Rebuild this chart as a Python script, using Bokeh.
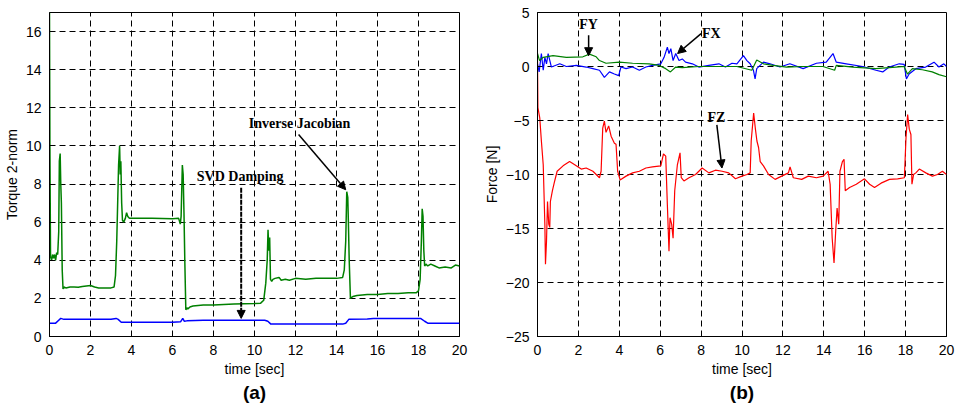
from bokeh.plotting import figure
from bokeh.layouts import row
from bokeh.models import (Range1d, SingleIntervalTicker, Label, Arrow, NormalHead, Title)
from bokeh.embed import file_html
from bokeh.resources import INLINE

# ---------------- (a) Torque 2-norm ----------------
inv_t = [0.00, 0.02, 0.05, 0.10, 0.15, 0.20, 0.25, 0.30, 0.35, 0.40, 0.45, 0.48, 0.52, 0.55, 0.58,
         0.62, 0.66, 0.70, 0.80, 1.0, 1.2, 1.4, 1.6, 1.8, 2.0, 2.2, 2.4, 2.6, 2.8, 3.0, 3.15, 3.22,
         3.28, 3.33, 3.37, 3.42, 3.45, 3.48, 3.52, 3.56, 3.62, 3.70, 3.76, 3.82, 3.90, 4.2, 5.0, 6.0,
         6.30, 6.38, 6.42, 6.48, 6.52, 6.56, 6.60, 6.65, 6.70, 6.75, 6.85, 7.0, 7.5, 8.0, 8.5, 9.0,
         9.5, 10.0, 10.3, 10.45, 10.55, 10.62, 10.66, 10.70, 10.74, 10.78, 10.84, 10.9, 11.0, 11.2,
         11.3, 11.5, 11.7, 12.0, 12.5, 13.0, 13.5, 14.0, 14.3, 14.38, 14.45, 14.50, 14.55, 14.58,
         14.62, 14.68, 14.74, 14.80, 15.0, 15.5, 16.0, 16.5, 17.0, 17.5, 17.9, 18.0, 18.08, 18.14,
         18.18, 18.22, 18.26, 18.30, 18.36, 18.45, 18.6, 18.8, 19.0, 19.3, 19.6, 19.8, 20.0]
inv_y = [17.0, 10.0, 4.2, 4.0, 4.3, 4.1, 4.3, 4.0, 4.4, 4.3, 5.5, 9.2, 9.6, 8.0, 7.0,
         3.5, 2.5, 2.6, 2.55, 2.6, 2.6, 2.58, 2.62, 2.65, 2.68, 2.6, 2.55, 2.55, 2.55, 2.55, 2.6, 3.2,
         5.0, 7.2, 9.0, 10.0, 8.5, 9.2, 7.0, 6.1, 6.0, 6.2, 6.5, 6.3, 6.2, 6.2, 6.2, 6.18,
         6.2, 5.9, 6.3, 9.0, 8.5, 6.5, 4.0, 1.4, 1.5, 1.45, 1.55, 1.6, 1.65, 1.65, 1.68, 1.7,
         1.72, 1.73, 1.75, 1.9, 2.8, 4.0, 5.6, 4.5, 5.2, 3.0, 2.9, 3.0, 3.05, 3.1,
         2.95, 3.0, 2.95, 3.05, 3.0, 3.05, 3.05, 3.05, 3.1, 3.5, 5.0, 7.6, 7.3, 6.0,
         4.0, 2.0, 2.05, 2.1, 2.15, 2.2, 2.2, 2.25, 2.25, 2.3, 2.3, 2.4, 3.0, 5.0,
         6.7, 6.3, 4.5, 3.7, 3.8, 3.7, 3.8, 3.7, 3.6, 3.65, 3.6, 3.75, 3.7]

svd_t = [0, 0.3, 0.45, 0.55, 0.7, 1.5, 3.0, 3.25, 3.35, 3.5, 4.0, 6.0, 6.4, 6.5, 6.58, 6.7, 7.5,
         9.0, 10.5, 10.65, 10.8, 12.0, 14.3, 14.45, 14.6, 15.5, 15.8, 17.0, 18.1, 18.3, 18.45, 20]
svd_y = [0.7, 0.7, 0.85, 0.95, 0.9, 0.9, 0.9, 0.95, 0.9, 0.75, 0.75, 0.75, 0.78, 0.95, 0.8, 0.82,
         0.85, 0.85, 0.85, 0.8, 0.65, 0.65, 0.65, 0.7, 0.9, 0.92, 0.95, 0.95, 0.95, 0.8, 0.7, 0.7]

# ---------------- (b) Forces ----------------
fz_t = [0.0, 0.02, 0.11, 0.19, 0.28, 0.36, 0.39, 0.44, 0.49, 0.55, 0.60, 0.63, 0.73, 0.84, 0.96,
        1.25, 1.57, 1.82, 2.14, 2.38, 2.71, 3.03, 3.11, 3.19, 3.27, 3.35, 3.48, 3.6, 3.76, 3.84,
        3.92, 4.04, 4.33, 4.65, 4.98, 5.3, 5.62, 6.03, 6.16, 6.27, 6.35, 6.43, 6.48, 6.56, 6.63,
        6.71, 6.84, 6.97, 7.03, 7.16, 7.41, 7.73, 8.05, 8.38, 8.7, 9.03, 9.35, 9.68, 10.0, 10.24,
        10.4, 10.45, 10.57, 10.65, 10.73, 10.81, 10.89, 11.05, 11.3, 11.62, 11.94, 12.27, 12.35,
        12.51, 12.92, 13.24, 13.64, 13.97, 14.21, 14.31, 14.41, 14.5, 14.58, 14.65, 14.73, 14.79,
        14.91, 14.99, 15.05, 15.26, 15.59, 15.99, 16.24, 16.48, 16.8, 17.21, 17.61, 17.94, 18.02,
        18.1, 18.18, 18.26, 18.31, 18.39, 18.5, 18.67, 18.99, 19.31, 19.56, 19.8, 20.0]
fz_y = [0.5, -3.8, -4.75, -6.9, -9.1, -14.6, -18.3, -16.2, -12.5, -14.6, -14.9, -12.5, -11.5, -10.6,
        -9.7, -9.2, -8.8, -9.1, -9.5, -9.4, -9.7, -10.3, -9.7, -5.7, -5.05, -6.1, -5.5, -6.45, -7.1,
        -7.2, -9.7, -10.5, -10.15, -9.85, -9.7, -9.4, -9.3, -9.2, -8.1, -8.3, -12.8, -17.1, -14.0,
        -14.6, -15.9, -11.5, -9.1, -8.0, -10.3, -10.6, -10.3, -10.0, -9.4, -9.85, -9.6, -9.7, -9.85,
        -10.4, -10.15, -10.0, -9.85, -6.9, -4.3, -5.7, -6.9, -7.5, -8.8, -9.2, -10.0, -10.45, -10.15,
        -9.85, -9.3, -10.3, -10.45, -10.15, -10.3, -10.15, -9.7, -10.9, -15.9, -18.2, -15.3, -13.1,
        -14.6, -9.7, -8.8, -8.6, -11.5, -11.2, -10.9, -10.4, -10.9, -11.2, -10.8, -10.45, -10.4,
        -10.3, -6.6, -4.45, -5.8, -6.3, -10.9, -10.0, -9.85, -9.5, -9.85, -10.15, -10.0, -9.7, -10.0]

fy_t = [0.0, 0.1, 0.28, 0.76, 1.41, 2.22, 2.54, 2.87, 3.03, 3.35, 4.0, 4.65, 5.46, 5.95, 6.27,
        6.5, 6.76, 7.08, 7.9, 8.7, 9.5, 9.75, 10.48, 10.72, 11.05, 11.53, 12.18, 12.99, 13.96,
        14.53, 14.61, 15.42, 16.55, 17.52, 17.93, 18.09, 18.33, 18.82, 19.3, 19.63, 20.0]
fy_y = [1.2, 0.55, 0.85, 1.0, 0.85, 0.9, 1.15, 0.9, 0.55, 0.3, 0.4, 0.3, 0.25, 0.1, -0.2,
        -0.5, -0.05, -0.1, 0.0, 0.0, 0.0, 0.0, -0.35, 0.6, 0.25, 0.1, -0.05, 0.0, 0.0,
        -0.35, 0.1, -0.05, -0.2, -0.05, 0.0, -0.7, -0.2, -0.3, -0.5, -0.75, -0.95]

fx_t = [0.0, 0.08, 0.19, 0.28, 0.36, 0.44, 0.52, 0.68, 1.09, 1.41, 1.9, 2.38, 2.71, 3.03, 3.27,
        3.52, 3.76, 3.97, 4.08, 4.33, 4.65, 4.98, 5.3, 5.62, 6.03, 6.19, 6.35, 6.43, 6.52, 6.63,
        6.76, 6.92, 7.08, 7.24, 7.57, 7.89, 8.38, 8.87, 9.19, 9.51, 9.75, 10.07, 10.24, 10.4,
        10.56, 10.64, 10.72, 11.05, 11.37, 11.86, 12.34, 12.99, 13.64, 14.12, 14.45, 14.61, 15.1,
        15.9, 16.55, 16.88, 17.2, 17.69, 17.93, 18.04, 18.17, 18.5, 18.98, 19.39, 19.63, 19.87, 20.0]
fx_y = [0.25, -0.5, 1.2, -0.35, 0.85, 0.25, 1.2, -0.05, 0.25, 0.0, 0.1, -0.05, -0.2, -0.35, -1.0,
        -0.5, -0.7, -0.85, -0.05, -0.2, -0.05, -0.35, -0.05, 0.1, 0.25, 0.85, 1.8, 1.2, 1.65, 0.55,
        1.2, 0.55, 0.7, 0.4, 0.25, -0.05, 0.1, 0.25, -0.05, 0.3, 0.25, 1.0, 0.55, 0.25,
        -0.35, -1.15, -0.2, 0.4, 0.25, -0.05, 0.25, -0.2, 0.3, 0.4, 1.2, 0.4, 0.25,
        0.0, -0.35, -0.5, -0.05, 0.25, 0.2, -1.15, -0.7, -0.2, -0.05, 0.4, -0.05, 0.25, 0.0]

# annotation anchors (data units)
svd_label = ("SVD Damping", 9.3, 8.4)
svd_arrow = (9.35, 7.8, 9.35, 0.95)
inv_label = ("Inverse Jacobian", 12.2, 11.2)
inv_arrow = (12.15, 10.6, 14.45, 7.7)
fy_label = ("FY", 2.5, 3.85)
fy_arrow = (2.5, 2.9, 2.5, 1.0)
fx_label = ("FX", 8.5, 3.05)
fx_arrow = (8.0, 3.05, 6.85, 1.2)
fz_label = ("FZ", 8.75, -4.75)
fz_arrow = (8.77, -5.4, 9.02, -9.4)

SANS = "Liberation Sans"
SERIF = "Liberation Serif"


def style(p, ytick):
    p.background_fill_color = "white"
    p.border_fill_color = "white"
    p.outline_line_color = "black"
    p.outline_line_width = 1
    p.xaxis.ticker = SingleIntervalTicker(interval=2)
    p.yaxis.ticker = SingleIntervalTicker(interval=ytick)
    for ax in (p.xaxis[0], p.yaxis[0]):
        ax.axis_line_color = "black"
        ax.major_tick_line_color = "black"
        ax.major_tick_in = 4
        ax.major_tick_out = 0
        ax.minor_tick_line_color = None
        ax.major_label_text_font = SANS
        ax.major_label_text_font_size = "14px"
        ax.major_label_text_color = "black"
        ax.major_label_standoff = 4
        ax.axis_label_text_font = SANS
        ax.axis_label_text_font_size = "14px"
        ax.axis_label_text_font_style = "normal"
        ax.axis_label_text_color = "black"
        ax.axis_label_standoff = 3
    for g in (p.xgrid[0], p.ygrid[0]):
        g.grid_line_color = "black"
        g.grid_line_dash = "6 4"
        g.grid_line_width = 1


def add_label(p, spec):
    text, x, y = spec
    p.add_layout(Label(x=x, y=y, text=text, text_font=SERIF, text_font_style="bold",
                       text_font_size="14px", text_align="center", text_baseline="middle",
                       text_color="black"))


def add_arrow(p, spec, dash="solid", width=1.5):
    x0, y0, x1, y1 = spec
    p.add_layout(Arrow(x_start=x0, y_start=y0, x_end=x1, y_end=y1, line_color="black",
                       line_width=width, line_dash=dash,
                       end=NormalHead(size=8, fill_color="black", line_color="black")))


# ---- left figure
p1 = figure(width=480, height=404, output_backend="svg", toolbar_location=None,
            x_range=Range1d(0, 20), y_range=Range1d(0, 17),
            min_border_left=47, min_border_right=21, min_border_top=12, min_border_bottom=68,
            x_axis_label="time [sec]", y_axis_label="Torque 2-norm")
style(p1, 2)
p1.line(inv_t, inv_y, line_color="#008000", line_width=1.5)
p1.line(svd_t, svd_y, line_color="#0000ff", line_width=1.5)
add_label(p1, svd_label)
add_arrow(p1, svd_arrow, dash="5 1", width=2)
add_label(p1, inv_label)
add_arrow(p1, inv_arrow)
p1.add_layout(Title(text="(a)", align="center", text_font=SANS, text_font_style="bold",
                    text_font_size="19px", text_color="black", standoff=0), "below")

# ---- right figure
p2 = figure(width=481, height=404, output_backend="svg", toolbar_location=None,
            x_range=Range1d(0, 20), y_range=Range1d(-25, 5),
            min_border_left=54, min_border_right=15, min_border_top=12, min_border_bottom=68,
            x_axis_label="time [sec]", y_axis_label="Force [N]")
style(p2, 5)
p2.line(fz_t, fz_y, line_color="#ff0000", line_width=1.2)
p2.line(fx_t, fx_y, line_color="#0000ff", line_width=1.2)
p2.line(fy_t, fy_y, line_color="#008000", line_width=1.2)
add_label(p2, fy_label)
add_arrow(p2, fy_arrow)
add_label(p2, fx_label)
add_arrow(p2, fx_arrow)
add_label(p2, fz_label)
add_arrow(p2, fz_arrow)
p2.add_layout(Title(text="(b)", align="center", text_font=SANS, text_font_style="bold",
                    text_font_size="19px", text_color="black", standoff=0), "below")

layout = row(p1, p2)
open("out.html", "w").write(file_html(layout, INLINE))
